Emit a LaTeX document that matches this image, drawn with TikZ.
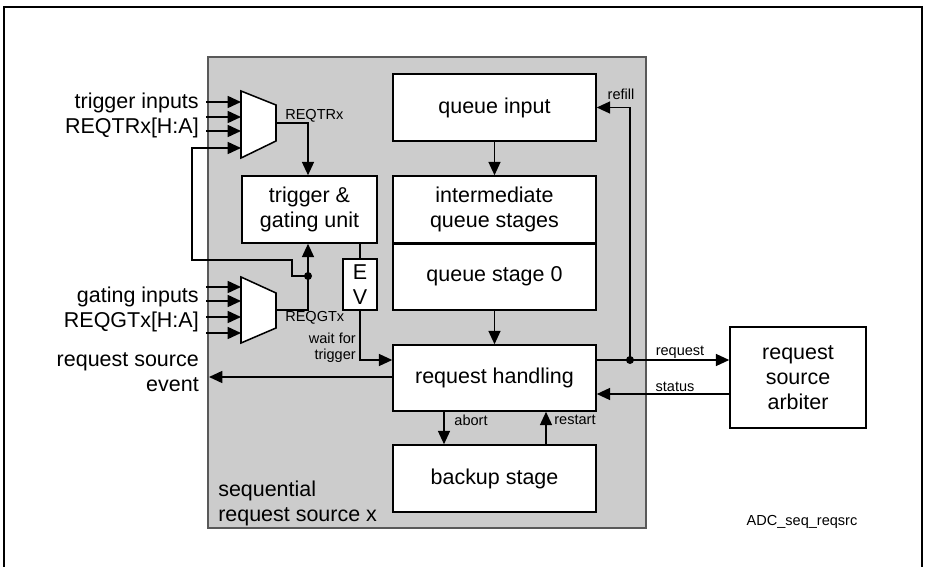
\documentclass[tikz,border=0pt]{standalone}
\usepackage{fontspec}
\setmainfont{Liberation Sans}
\usetikzlibrary{arrows.meta,calc}
\newcommand\mainfnt{\fontsize{16.1}{18.75}\selectfont}
\newcommand\smallfnt{\fontsize{10.9}{12}\selectfont}
\definecolor{panelgray}{RGB}{204,204,204}
\begin{document}
\begin{tikzpicture}[x=0.75pt,y=-0.75pt,
  line/.style={line width=1.15pt},
  arr/.style={line width=1.15pt,-{Triangle[length=10pt,width=9pt]}},
  blk/.style={draw,line width=1.15pt,fill=white,inner sep=0pt,align=center,font=\mainfnt,minimum width=152.25pt,minimum height=50.25pt},
  lbl/.style={inner sep=0pt,font=\mainfnt},
  slbl/.style={inner sep=0pt,font=\smallfnt},
  dot/.style={circle,fill=black,inner sep=0pt,minimum size=6pt}]
\useasboundingbox (0,0) rectangle (926,567);
% outer frame and panel
\draw[line width=1.6pt] (4,567) -- (4,7) -- (922,7) -- (922,567);
\draw[fill=panelgray,draw=black!65,line width=0.8pt] (208,57) rectangle (646,528);
% blocks
\node[blk] (qin) at (494.5,107.5) {queue input};
\node[blk] (qmid) at (494.5,209.5) {intermediate\\queue stages};
\node[blk] (q0) at (494.5,276.5) {queue stage 0};
\node[blk,minimum height=49.5pt] (rh) at (494.5,378) {request handling};
\node[blk] (bk) at (494.5,478.5) {backup stage};
\node[blk,minimum width=101.25pt] (tg) at (309.5,209.5) {trigger \&\\gating unit};
\node[blk,minimum width=25.5pt,minimum height=38.25pt] (ev) at (360,284.5) {E\\V};
\node[blk,minimum width=102pt,minimum height=75.75pt] (arb) at (798,377.5) {request\\source\\arbiter};
% multiplexers
\draw[line,fill=white] (241,91) -- (276,105) -- (276,141) -- (241,158) -- cycle;
\draw[line,fill=white] (241,277) -- (276,293) -- (276,328) -- (241,343) -- cycle;
\coordinate (m1o) at (276,123);
\coordinate (m2o) at (276,310);
\coordinate (xt) at (308,0);
\coordinate (xab) at (444,0);
\coordinate (xrs) at (546,0);
\coordinate (yreq) at (0,360);
\coordinate (ysta) at (0,394);
\coordinate (evout) at (209,377);
% mux inputs
\foreach \y [count=\i] in {102,117,131}{
  \coordinate (a\i) at (206,\y); \coordinate (b\i) at (241,\y);
  \draw[arr] (a\i) -- (b\i);}
\coordinate (b4) at (241,148);
\foreach \y [count=\i] in {287,301,317,333}{
  \coordinate (c\i) at (206,\y); \coordinate (d\i) at (241,\y);
  \draw[arr] (c\i) -- (d\i);}
% connectors
\draw[arr] (qin.south) -- (qmid.north);
\draw[line] (qmid.south west) -- (qmid.south east);
\draw[arr] (q0.south) -- (rh.north);
\draw[arr] (rh.south -| xab) -- (bk.north -| xab);
\draw[arr] (bk.north -| xrs) -- (rh.south -| xrs);
\draw[arr] (rh.east |- yreq) -- (arb.west |- yreq);
\node[dot] (jd) at (630,360) {};
\draw[arr] (jd.center) -- (jd.center |- qin.east) -- (qin.east);
\draw[arr] (arb.west |- ysta) -- (rh.east |- ysta);
\draw[arr] (rh.west |- evout) -- (evout);
\draw[line] (tg.south -| ev.north) -- (ev.north);
\draw[arr] (ev.south) -- (ev.south |- yreq) -- (rh.west |- yreq);
\draw[arr] (m1o) -- (m1o -| xt) -- (tg.north -| xt);
\draw[arr] (m2o) -- (m2o -| xt) -- (tg.south -| xt);
\node[dot] (gd) at (308,276) {};
\draw[arr] (gd.center) -- ++(-16,0) -- ++(0,-16) -- (192,260) -- (192,148) -- (b4);
% labels
\node[lbl,align=right,anchor=east] (ltr) at (199,115) {trigger inputs\\REQTRx[H:A]};
\node[lbl,align=right,anchor=east] (lgt) at (199,309.5) {gating inputs\\REQGTx[H:A]};
\node[lbl,align=right,anchor=east] (lev) at (199,372) {request source\\event};
\node[lbl,align=left,anchor=west] (lsq) at (218,503.5) {sequential\\request source x};
\node[slbl,anchor=west] (ltrx) at (285,116) {REQTRx};
\node[slbl,anchor=west] (lgtx) at (285,318) {REQGTx};
\node[slbl,align=right,anchor=east] (lwt) at (356,348) {wait for\\trigger};
\node[slbl] (lrf) at (621,94) {refill};
\node[slbl] (lrq) at (680,352) {request};
\node[slbl] (lst) at (675,387) {status};
\node[slbl] (lab) at (471,420) {abort};
\node[slbl] (lrs) at (575,420) {restart};
\node[slbl] (lid) at (802,522) {ADC\_seq\_reqsrc};
\end{tikzpicture}
\end{document}
